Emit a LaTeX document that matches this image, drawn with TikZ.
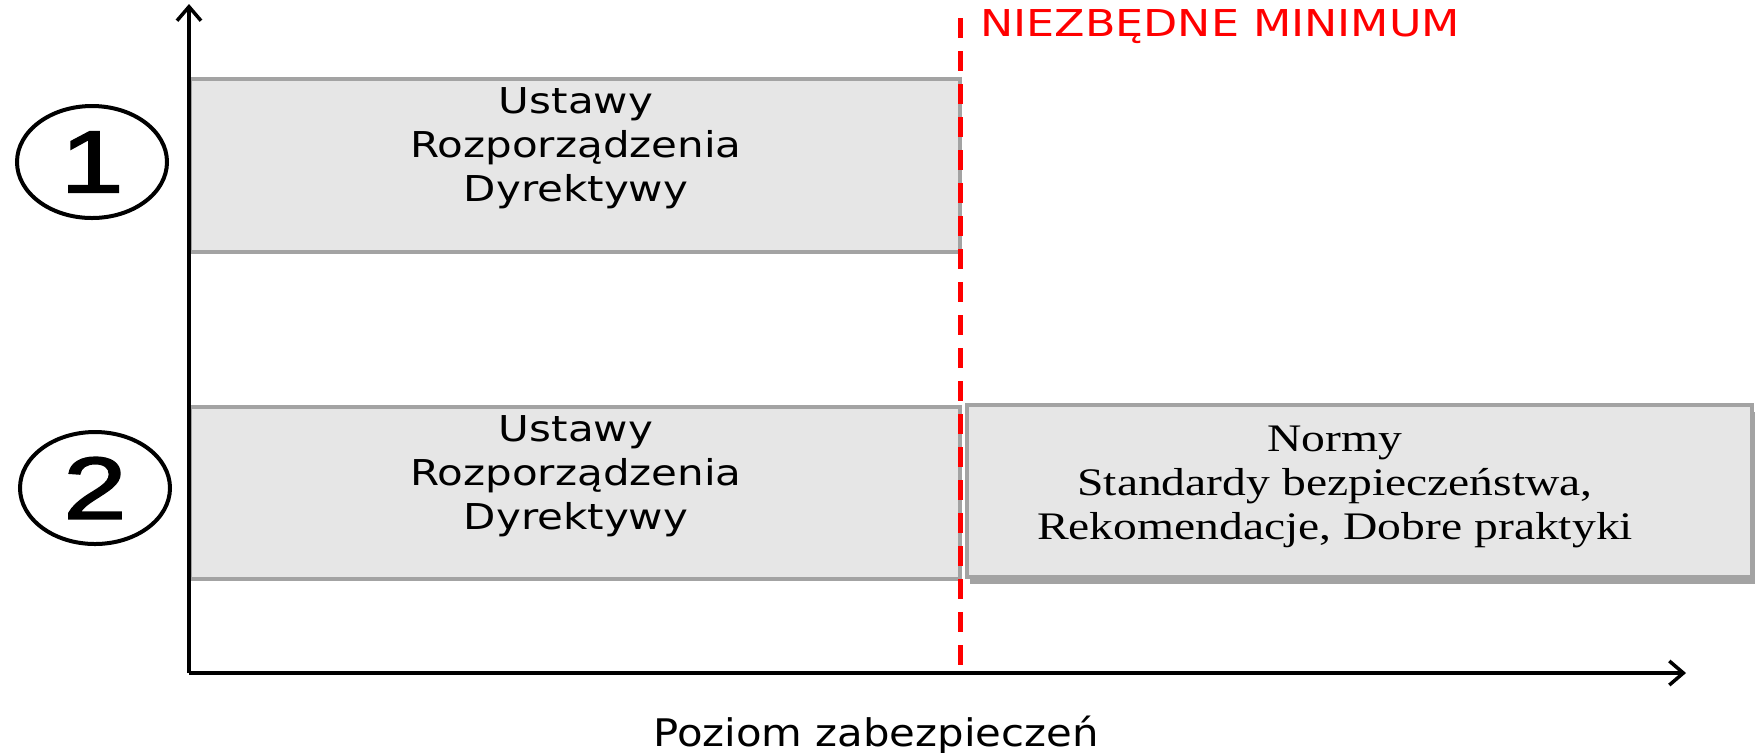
\documentclass[tikz,border=0pt]{standalone}
\usepackage{fontspec}
\usetikzlibrary{arrows.meta,shapes.geometric,shadows}
\newfontfamily\boxfont[FakeStretch=1.18]{DejaVu Sans}
\newfontfamily\redfont[FakeStretch=1.2]{DejaVu Sans}
\newfontfamily\axfont[FakeStretch=1.1]{DejaVu Sans}
\newfontfamily\serfont[FakeStretch=1.22]{Liberation Serif}
\newfontfamily\numfont[FakeStretch=1.3,FakeBold=2]{Liberation Sans}
\definecolor{boxfill}{HTML}{E6E6E6}
\definecolor{boxdraw}{HTML}{A3A3A3}
\definecolor{minred}{HTML}{FF0000}
\tikzset{
  graybox/.style={draw=boxdraw, line width=2pt, fill=boxfill, inner sep=0pt},
  boxtext/.style={font=\boxfont\fontsize{17.8pt}{22pt}\selectfont, align=center, inner sep=0pt},
  sertext/.style={font=\serfont\fontsize{19.5pt}{22pt}\selectfont, align=center, inner sep=0pt},
  numcircle/.style={ellipse, draw=black, line width=2pt, minimum width=75pt, minimum height=56pt, inner sep=0pt, font=\numfont\fontsize{44pt}{44pt}\selectfont},
  axisline/.style={line width=1.75pt, -{Straight Barb[length=7pt,width=12pt]}},
  redline/.style={draw=minred, line width=2.5pt, dash pattern=on 10pt off 6.5pt},
}
\begin{document}
\begin{tikzpicture}[x=0.5pt,y=-0.5pt]
\useasboundingbox (0,0) rectangle (1755,752);
% boxes
\node[graybox, minimum width=385pt, minimum height=86.5pt] (b1) at (575,165.5) {};
\node[graybox, minimum width=385pt, minimum height=86pt] (b2) at (575,493) {};
\node[graybox, minimum width=392.5pt, minimum height=86pt,
      drop shadow={shadow xshift=1.5pt, shadow yshift=-3.5pt, fill=black!60, opacity=0.6}] (b3) at (1359.5,491) {};
% texts
\node[boxtext] (t1) at (576,148) {Ustawy\\Rozporządzenia\\Dyrektywy};
\node[boxtext] (t2) at (576,476) {Ustawy\\Rozporządzenia\\Dyrektywy};
\node[sertext] (t3) at (1335,487) {Normy\\Standardy bezpieczeństwa,\\Rekomendacje, Dobre praktyki};
% numbers
\node[numcircle] (c1) at (92,162) {1};
\node[numcircle] (c2) at (95,488) {2};
% red line
\coordinate (rtop) at (960,18);
\coordinate (rbot) at (960,672);
\draw[redline] (rtop) -- (rbot);
\node[anchor=west, inner sep=0pt, text=minred, font=\redfont\fontsize{18.5pt}{20pt}\selectfont] (nm) at (980,27) {NIEZBĘDNE MINIMUM};
% axes
\coordinate (o) at (189,673);
\coordinate (ytip) at (189,4);
\coordinate (xtip) at (1686,673);
\draw[axisline] (o) -- (ytip);
\draw[axisline] (o) -- (xtip);
\node[inner sep=0pt, font=\axfont\fontsize{19pt}{22pt}\selectfont] (xl) at (876,735) {Poziom zabezpieczeń};
\end{tikzpicture}
\end{document}
